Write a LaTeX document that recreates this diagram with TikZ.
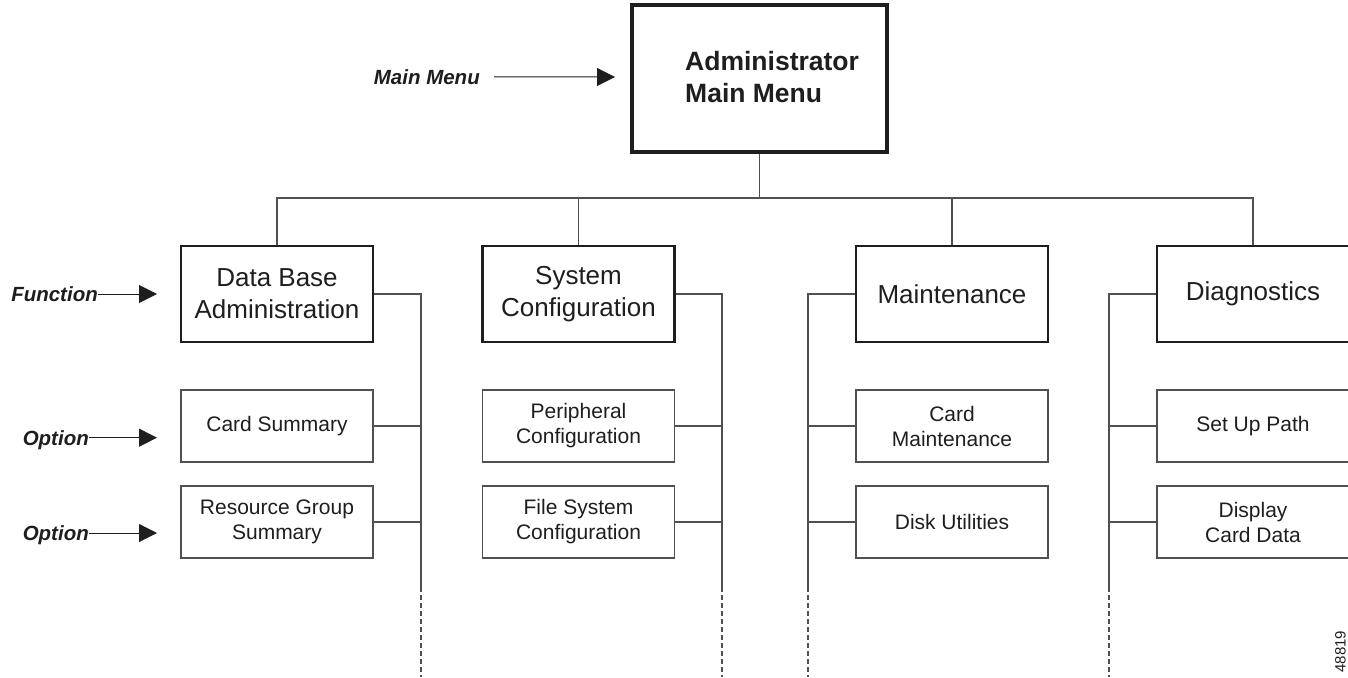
\documentclass[tikz,border=0pt]{standalone}
\usepackage{fontspec}
\setmainfont{Liberation Sans}
\usetikzlibrary{arrows.meta}

\definecolor{ink}{HTML}{1E1E1E}
\definecolor{wire}{HTML}{505050}

\tikzset{
  mainbox/.style={draw=ink, line width=3.5pt, minimum width=255pt, minimum height=147pt, inner sep=0pt},
  funcbox/.style={draw=ink, line width=2.2pt, minimum width=192pt, minimum height=96pt, inner sep=0pt,
    align=center, text=ink, font=\fontsize{26}{32}\selectfont},
  optbox/.style={draw=wire, line width=1.3pt, minimum width=192pt, minimum height=72pt, inner sep=0pt,
    align=center, text=ink, font=\fontsize{21}{25}\selectfont},
  conn/.style={draw=wire, line width=1.1pt},
  tail/.style={conn, dash pattern=on 5pt off 3pt},
  tag/.style={inner sep=0pt, anchor=base east, text=ink, font=\fontsize{20.5}{24}\selectfont\bfseries\itshape},
  ptr/.style={draw=ink, line width=1pt, -{Triangle[length=18pt, width=18pt]}}
}

\begin{document}
\begin{tikzpicture}[x=1pt, y=-1pt]
\useasboundingbox (0,0) rectangle (1348,677);

% top-level menu
\node[mainbox] (main) at (759.5,78.5) {};
\node[inner sep=0pt, anchor=west, align=left, text=ink, font=\fontsize{26.5}{31.7}\selectfont\bfseries]
  (maintitle) at (685,77) {Administrator\\ Main Menu};

% functions
\node[funcbox] (f1) at (277,294) {Data Base\\Administration};
\node[funcbox] (f2) at (578.5,294) {System\\Configuration};
\node[funcbox] (f3) at (952,294) {Maintenance};
\node[funcbox] (f4) at (1253,294) {Diagnostics};

% options
\node[optbox] (o11) at (277,426) {Card Summary};
\node[optbox] (o12) at (277,522) {Resource Group\\Summary};
\node[optbox] (o21) at (578.5,426) {Peripheral\\Configuration};
\node[optbox] (o22) at (578.5,522) {File System\\Configuration};
\node[optbox] (o31) at (952,426) {Card\\Maintenance};
\node[optbox] (o32) at (952,522) {Disk Utilities};
\node[optbox] (o41) at (1253,426) {Set Up Path};
\node[optbox] (o42) at (1253,522) {Display\\Card Data};

% distribution bus under the main menu
\coordinate (bus) at (0,198);
\draw[conn] (main.south) -- (main.south |- bus);
\draw[conn] (f1.north) -- (f1.north |- bus) -- (f4.north |- bus) -- (f4.north);
\draw[conn] (f2.north) -- (f2.north |- bus);
\draw[conn] (f3.north) -- (f3.north |- bus);

% option spines
\foreach \s/\x in {1/421, 2/722, 3/808, 4/1109} {
  \coordinate (s\s top) at (\x,294);
  \coordinate (s\s mid) at (\x,587);
  \coordinate (s\s end) at (\x,677);
}
\draw[conn] (f1.east) -- (s1top) -- (s1mid);
\draw[conn] (f2.east) -- (s2top) -- (s2mid);
\draw[conn] (f3.west) -- (s3top) -- (s3mid);
\draw[conn] (f4.west) -- (s4top) -- (s4mid);
\foreach \s in {1,2,3,4} \draw[tail] (s\s mid) -- (s\s end);

\draw[conn] (o11.east) -- (o11.east -| s1top);
\draw[conn] (o12.east) -- (o12.east -| s1top);
\draw[conn] (o21.east) -- (o21.east -| s2top);
\draw[conn] (o22.east) -- (o22.east -| s2top);
\draw[conn] (o31.west) -- (o31.west -| s3top);
\draw[conn] (o32.west) -- (o32.west -| s3top);
\draw[conn] (o41.west) -- (o41.west -| s4top);
\draw[conn] (o42.west) -- (o42.west -| s4top);

% level tags with pointers
\node[tag] (tmain) at (480,84.3) {Main Menu};
\coordinate (pmain) at (615,77);
\draw[ptr, shorten <=14pt] (tmain) -- (pmain);

\node[tag] (tfunc) at (98,301.3) {Function};
\coordinate (pfunc) at (157,294);
\draw[ptr] (tfunc.east |- pfunc) -- (pfunc);

\node[tag] (topt1) at (89,445) {Option};
\coordinate (popt1) at (157,437.7);
\draw[ptr] (topt1.east |- popt1) -- (popt1);

\node[tag] (topt2) at (89,540.3) {Option};
\coordinate (popt2) at (157,533);
\draw[ptr] (topt2.east |- popt2) -- (popt2);

% figure number
\node[rotate=90, inner sep=0pt, text=ink, font=\fontsize{15}{15}\selectfont] (fignum) at (1340.5,651.5) {48819};
\end{tikzpicture}
\end{document}
